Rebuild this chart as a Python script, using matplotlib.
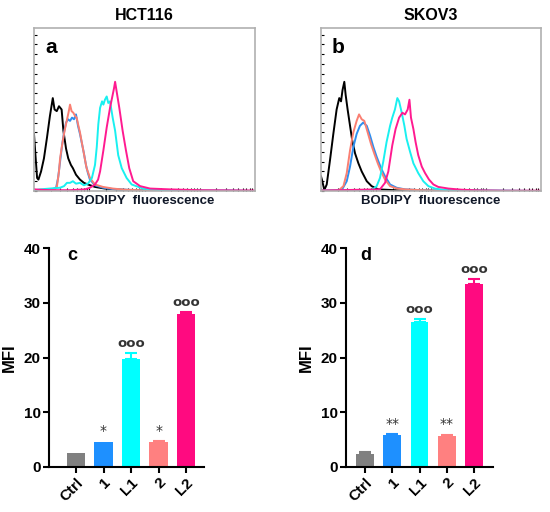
import numpy as np
import matplotlib.pyplot as plt

plt.rcParams['font.family'] = ['Liberation Sans', 'DejaVu Sans']

# ---- flow cytometry histograms (x: % of channel range, y: % of axis height) ----
# panel a, HCT116
a_black_x = [0, 0.5, 1.4, 2, 3.2, 4.5, 5.9, 7.2, 8.5, 9.3, 10.3, 11.3, 12.5, 13.3, 14.5, 15.5,
             16.7, 17.6, 19, 20.8, 22.6, 24.4, 27.6, 32, 39, 48, 57, 100]
a_black_y = [35, 25, 8, 7, 12, 20, 33, 46, 57, 50, 49, 52, 50, 37, 26, 20,
             16, 14, 10, 7, 5, 4, 2.5, 1.5, 0.8, 0.3, 0, 0]
a_salmon_x = [0, 7.2, 9.5, 10.4, 11.3, 11.8, 12.7, 13.3, 14, 14.8, 15.6, 16.3, 17, 17.8, 18.6, 19.3,
              20.1, 20.8, 21.6, 22.3, 23.1, 23.8, 24.6, 25.3, 27.6, 31.2, 35.7, 41, 52.5, 66, 100]
a_salmon_y = [0.3, 0.5, 1, 3, 12, 20, 28, 33, 38, 43, 48, 53, 49, 48, 46, 45,
              40, 36, 30, 25, 19, 14, 11, 8, 4, 2.5, 1.5, 0.8, 0.3, 0, 0]
a_blue_x = [0, 7.2, 10, 10.9, 11.8, 12.7, 13.6, 14.5, 15.4, 16.3, 17.2, 18.1, 19, 19.9, 20.8, 21.7,
            22.6, 23.5, 24.4, 25.3, 27.6, 31.2, 36.7, 48, 66, 88.7, 100]
a_blue_y = [0.3, 0.5, 2, 8, 18, 28, 36, 42, 44, 43, 45, 44, 47, 40, 35, 29,
            23, 16, 11, 7, 3.5, 2, 1, 0.5, 0.2, 0.3, 0]
a_cyan_x = [0, 0.5, 2.7, 7.2, 11.8, 13.6, 14.9, 16.3, 17.6, 19, 20.8, 22.6, 24.4, 26.2, 27.6, 28.4,
            29.1, 29.9, 30.8, 31.4, 32.1, 32.9, 33.6, 34.4, 35.6, 36.7, 38.1, 39.7, 41.9, 44.2,
            49.3, 57, 75, 100]
a_cyan_y = [0, 0.5, 1, 1.5, 2, 3, 5, 5, 6, 4.5, 5, 3.5, 4.5, 8, 16, 27,
            41, 51, 55, 53, 56, 58, 54, 55, 45, 37, 22, 14, 8, 4,
            1.5, 0.5, 0.2, 0]
a_pink_x = [0, 7.2, 16.3, 23.1, 25.3, 27.6, 29, 29.9, 31.4, 32.9, 34.4, 35.6, 36.2, 36.7, 37.4,
            38.6, 40.1, 41.6, 43.1, 44.9, 48, 52.5, 61.5, 75, 100]
a_pink_y = [1, 0.5, 0.5, 1, 2, 4, 7, 12, 25, 39, 51, 59, 63, 67, 61,
            51, 37, 25, 14, 6, 3, 1.5, 1, 0.5, 0.3]

# panel b, SKOV3
b_black_x = [0, 0.6, 1.5, 2.6, 4.1, 5.6, 7.1, 8.3, 9.1, 9.8, 10.6, 11.2, 12.1, 13.2, 14.2, 15.5,
             17, 18.5, 20.8, 23, 26, 32, 38, 53, 100]
b_black_y = [9, 6, 0.6, 4, 19, 35, 50, 57, 55, 62, 67, 59, 50, 40, 31, 23,
             17, 12, 6, 3, 1, 0.6, 0.2, 0, 0]
b_salmon_x = [0, 7.9, 10.2, 11.7, 13.2, 14.7, 16.2, 17.3, 18.5, 19.7, 21.2, 22.7, 24.2, 25.8, 27.3,
              29.1, 31.4, 34.4, 38.2, 44.2, 53.3, 100]
b_salmon_y = [0.2, 0.2, 3, 11, 25, 36, 43, 47, 44, 43, 36, 29, 23, 17, 12,
              7, 3, 1.6, 1, 0.6, 0.2, 0]
b_blue_x = [0, 9.4, 11.7, 13.2, 14.7, 16.2, 17.7, 19.2, 20.8, 22.3, 23.8, 25.3, 27.3, 29.1, 31.4,
            34.4, 38.2, 45.8, 100]
b_blue_y = [0.2, 0.5, 6, 15, 27, 35, 40, 42, 40, 34, 27, 21, 14, 9, 4,
            2, 1, 0.5, 0]
b_cyan_x = [0, 23, 25.3, 26.8, 28.3, 29.8, 31.4, 32.4, 33.6, 34.7, 35.5, 36.7, 37.9, 38.9, 40.5,
            42, 44.2, 46.5, 48.8, 51.8, 56.4, 65.5, 100]
b_cyan_y = [0.2, 0.5, 3, 8, 18, 30, 40, 45, 50, 57, 55, 48, 40, 32, 24,
            17, 11, 6, 3, 1.5, 0.6, 0.3, 0]
b_pink_x = [0, 26.8, 29.1, 30.6, 32.4, 33.9, 35.5, 37, 38.2, 39.4, 40.2, 40.9, 42, 43, 44.2,
            45.8, 47.3, 49.1, 51.1, 53.3, 57.9, 63.9, 71.5, 83.6, 100]
b_pink_y = [0.3, 1, 5, 12, 28, 38, 45, 48, 47, 50, 56, 45, 38, 30, 22,
            15, 11, 7, 4, 2.5, 1.5, 0.8, 0.4, 0.2, 0.2]

# ---- MFI bar charts ----
groups = ['Ctrl', '1', 'L1', '2', 'L2']
c_mfi = [2.5, 4.6, 19.75, 4.6, 27.9]
c_err = [0.0, 0.0, 1.1, 0.2, 0.45]
c_marks = ['', '*', 'ooo', '*', 'ooo']
d_mfi = [2.4, 5.9, 26.5, 5.7, 33.5]
d_err = [0.25, 0.15, 0.6, 0.15, 0.8]
d_marks = ['', '**', 'ooo', '**', 'ooo']

hist_colors = {'black': 'black', 'salmon': '#FA7F72', 'blue': '#2E8FF0',
               'cyan': '#19F0F0', 'pink': '#FF1A90'}
bar_colors = ['#808080', '#1E90FF', '#00FFFF', '#FF8080', '#FF0A80']

W, H = 550, 512
fig = plt.figure(figsize=(W / 100, H / 100), dpi=100)


def px_axes(left, top, right, bottom):
    return fig.add_axes([left / W, 1 - bottom / H, (right - left) / W, (bottom - top) / H])


def histo(ax, curves, letter, title):
    for name, xs, ys in curves:
        ax.plot(xs, ys, color=hist_colors[name], lw=1.4)
    ax.set_xlim(0, 100)
    ax.set_ylim(0, 100)
    for s in ax.spines.values():
        s.set_color('#b0b0b0')
        s.set_linewidth(1.2)
    # flow-software style small inward ticks
    xt = [d * 25 + np.log10(k) * 25 for d in range(4) for k in range(1, 10)]
    ax.set_xticks(xt)
    ax.set_yticks(np.arange(0, 101, 6))
    ax.tick_params(direction='in', length=2, width=0.8, color='black',
                   labelbottom=False, labelleft=False)
    ax.text(0.05, 0.88, letter, transform=ax.transAxes, fontsize=15,
            fontweight='bold', va='center', ha='left')
    ax.set_title(title, fontsize=11.5, fontweight='bold', pad=6)
    ax.set_xlabel('BODIPY  fluorescence', fontsize=9.5, fontweight='bold',
                  labelpad=3, color='#101828')


ax_a = px_axes(34, 28, 255, 191)
histo(ax_a, [('black', a_black_x, a_black_y), ('blue', a_blue_x, a_blue_y),
             ('salmon', a_salmon_x, a_salmon_y), ('cyan', a_cyan_x, a_cyan_y),
             ('pink', a_pink_x, a_pink_y)], 'a', 'HCT116')
ax_b = px_axes(321, 28, 541, 191)
histo(ax_b, [('black', b_black_x, b_black_y), ('blue', b_blue_x, b_blue_y),
             ('salmon', b_salmon_x, b_salmon_y), ('cyan', b_cyan_x, b_cyan_y),
             ('pink', b_pink_x, b_pink_y)], 'b', 'SKOV3')


def bars(ax, vals, errs, marks, letter, xlim, mark_y):
    pos = np.arange(len(groups))
    for i in pos:
        ax.bar(i, vals[i], width=0.66, color=bar_colors[i])
        if errs[i] > 0:
            ax.errorbar(i, vals[i], yerr=[[0], [errs[i]]], color=bar_colors[i],
                        capsize=4, capthick=1.5, elinewidth=1.5)
        if marks[i] == 'ooo':
            ax.text(i, mark_y[i], marks[i], ha='center', va='center', fontsize=9.5,
                    fontweight='bold', color='#333333', family='DejaVu Sans')
        elif marks[i]:
            ax.text(i, mark_y[i], marks[i], ha='center', va='center',
                    fontsize=10, color='#333333', family='DejaVu Sans')
    ax.set_xlim(*xlim)
    ax.set_ylim(0, 40)
    ax.set_yticks([0, 10, 20, 30, 40])
    ax.set_xticks(pos)
    ax.set_xticklabels(groups, rotation=45, ha='right', rotation_mode='anchor')
    for lab in ax.get_xticklabels() + ax.get_yticklabels():
        lab.set_fontweight('bold')
        lab.set_fontsize(11)
    ax.spines['top'].set_visible(False)
    ax.spines['right'].set_visible(False)
    ax.spines['left'].set_linewidth(1.5)
    ax.spines['bottom'].set_linewidth(1.5)
    ax.tick_params(width=1.5, length=4, pad=2)
    ax.set_ylabel('MFI', fontsize=12, fontweight='bold', labelpad=5)
    ax.text(0.12 if letter == 'c' else 0.1, 0.965, letter, transform=ax.transAxes,
            fontsize=13, fontweight='bold', va='center', ha='left')


ax_c = px_axes(49, 248, 204, 467)
bars(ax_c, c_mfi, c_err, c_marks, 'c', (-0.98, 4.65), [0, 6.6, 22.5, 6.6, 30.0])
ax_d = px_axes(346, 248, 493, 467)
bars(ax_d, d_mfi, d_err, d_marks, 'd', (-0.7, 4.7), [0, 7.9, 28.8, 7.9, 36.1])

fig.savefig('out.png', dpi=100)
